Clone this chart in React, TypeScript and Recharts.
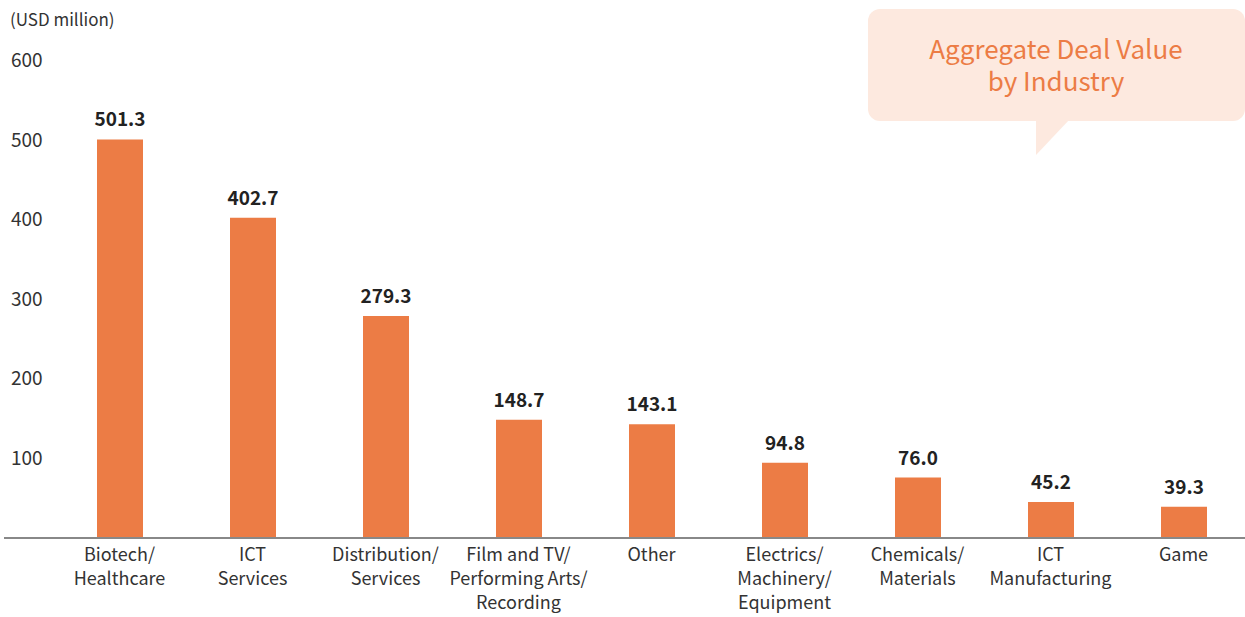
import { BarChart, Bar, XAxis, YAxis, LabelList } from 'recharts';

const categories = [
  'Biotech/Healthcare',
  'ICT Services',
  'Distribution/Services',
  'Film and TV/Performing Arts/Recording',
  'Other',
  'Electrics/Machinery/Equipment',
  'Chemicals/Materials',
  'ICT Manufacturing',
  'Game',
];
const tickLines = [
  ['Biotech/', 'Healthcare'],
  ['ICT', 'Services'],
  ['Distribution/', 'Services'],
  ['Film and TV/', 'Performing Arts/', 'Recording'],
  ['Other'],
  ['Electrics/', 'Machinery/', 'Equipment'],
  ['Chemicals/', 'Materials'],
  ['ICT', 'Manufacturing'],
  ['Game'],
];
const dealValues = [501.3, 402.7, 279.3, 148.7, 143.1, 94.8, 76.0, 45.2, 39.3];
const yTicks = [100, 200, 300, 400, 500, 600];

const data = categories.map((name, i) => ({ name, value: dealValues[i] }));

const FONT = '"Noto Sans CJK JP", "Noto Sans", sans-serif';
const ORANGE = '#EC7C45';

function XTick({ x, y, index }: any) {
  const lines = tickLines[index] || [];
  return (
    <text x={x} textAnchor="middle" fontFamily={FONT} fontSize={18} fill="#333">
      {lines.map((l, i) => (
        <tspan key={i} x={x} y={y + 15 + i * 24}>{l}</tspan>
      ))}
    </text>
  );
}

function YTick({ y, payload }: any) {
  return (
    <text x={11} y={y + 6} textAnchor="start" fontFamily={FONT} fontSize={19} fill="#333">
      {payload.value}
    </text>
  );
}

export default function App() {
  return (
    <div style={{ position: 'absolute', left: 0, top: 0, width: 1245, height: 617, overflow: 'hidden', background: '#fff', fontFamily: FONT }}>
      <div style={{ position: 'absolute', left: 10, top: 6, fontSize: 17, color: '#333' }}>(USD million)</div>
      <BarChart width={1260} height={617} data={data} margin={{ top: 61, right: 0, bottom: 0, left: 0 }}>
        <XAxis
          dataKey="name"
          interval={0}
          height={79}
          padding={{ left: 49, right: 10 }}
          axisLine={{ stroke: '#888', strokeWidth: 2 }}
          tickLine={false}
          tick={<XTick />}
        />
        <YAxis
          width={4}
          domain={[0, 600]}
          ticks={yTicks}
          axisLine={false}
          tickLine={false}
          tick={<YTick />}
        />
        <Bar dataKey="value" fill={ORANGE} barSize={46} isAnimationActive={false}>
          <LabelList
            dataKey="value"
            position="top"
            offset={13}
            formatter={(v: any) => Number(v).toFixed(1)}
            style={{ fontFamily: FONT, fontSize: 19, fontWeight: 700, fill: '#222' }}
          />
        </Bar>
      </BarChart>
      <svg style={{ position: 'absolute', left: 0, top: 0 }} width={1245} height={617}>
        <rect x={868} y={9} width={377} height={112} rx={12} fill="#FDE9DF" />
        <polygon points="1036,120 1069,120 1036,155" fill="#FDE9DF" />
        <text x={1056} y={59} textAnchor="middle" fontFamily={FONT} fontSize={26} fill={ORANGE}>Aggregate Deal Value</text>
        <text x={1056} y={91} textAnchor="middle" fontFamily={FONT} fontSize={26} fill={ORANGE}>by Industry</text>
      </svg>
    </div>
  );
}
